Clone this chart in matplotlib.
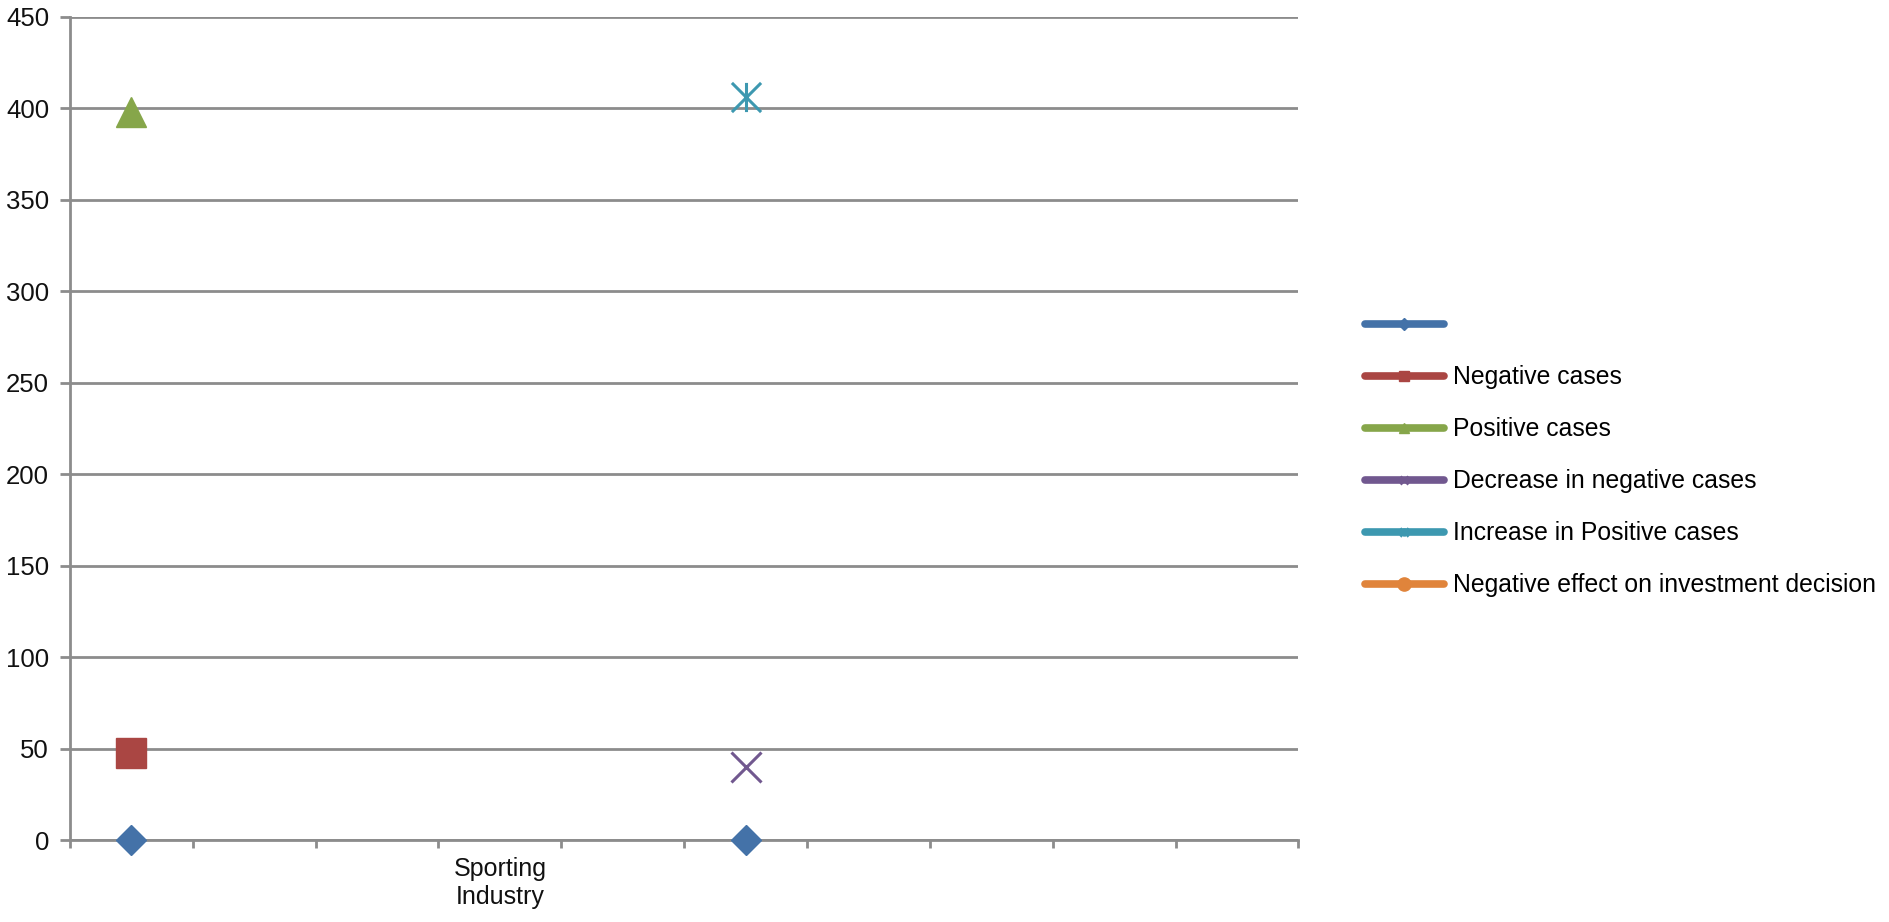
import numpy as np
import matplotlib
matplotlib.use("Agg")
import matplotlib.pyplot as plt
from matplotlib.lines import Line2D
from matplotlib.path import Path

plt.rcParams['font.family'] = ['Liberation Sans', 'DejaVu Sans']

nan = np.nan
categories = ["", "", "", "Sporting\nIndustry", "", "", "", "", "", ""]
series_names = ["", "Negative cases", "Positive cases", "Decrease in negative cases",
                "Increase in Positive cases", "Negative effect on investment decision"]
s_blank = [0, nan, nan, nan, nan, 0, nan, nan, nan, nan]
s_negative = [48, nan, nan, nan, nan, nan, nan, nan, nan, nan]
s_positive = [398, nan, nan, nan, nan, nan, nan, nan, nan, nan]
s_decrease = [nan, nan, nan, nan, nan, 40, nan, nan, nan, nan]
s_increase = [nan, nan, nan, nan, nan, 406, nan, nan, nan, nan]
s_neg_effect = [nan] * 10
yticks = list(range(0, 451, 50))

colors = ['#4472A8', '#AA4643', '#86A64A', '#71588F', '#3D98B0', '#E0843B']

star = Path([(-0.5, -0.5), (0.5, 0.5), (-0.5, 0.5), (0.5, -0.5), (0, -0.5), (0, 0.5)],
            [Path.MOVETO, Path.LINETO, Path.MOVETO, Path.LINETO, Path.MOVETO, Path.LINETO])

styles = [
    dict(marker='D', ms=15, mfc=colors[0], mec=colors[0], mew=1),
    dict(marker='s', ms=21, mfc=colors[1], mec=colors[1], mew=1),
    dict(marker='^', ms=22, mfc=colors[2], mec=colors[2], mew=1),
    dict(marker='x', ms=21, mfc='none', mec=colors[3], mew=2.2),
    dict(marker=star, ms=21, mfc='none', mec=colors[4], mew=2.2),
    dict(marker='o', ms=16, mfc=colors[5], mec=colors[5], mew=1),
]
leg_styles = [
    dict(marker='D', ms=6), dict(marker='s', ms=7.5), dict(marker='^', ms=7.5),
    dict(marker='x', ms=6, mew=2), dict(marker=star, ms=6, mew=2), dict(marker='o', ms=9.5),
]

data = [s_blank, s_negative, s_positive, s_decrease, s_increase, s_neg_effect]

fig = plt.figure(figsize=(18.9, 9.22), dpi=100)
ax = fig.add_axes([0.037, 0.0884, 0.650, 0.8932])

x = np.arange(len(categories))
for vals, st in zip(data, styles):
    ax.plot(x, vals, linestyle='none', zorder=3, clip_on=False, **st)

grid_c = '#8C8C8C'
ax.set_xlim(-0.5, len(categories) - 0.5)
ax.set_ylim(0, 450)
ax.set_yticks(yticks)
ax.set_yticklabels([str(v) for v in yticks])
ax.yaxis.grid(True, color=grid_c, linewidth=2)
ax.set_axisbelow(True)
ax.set_xticks(np.arange(-0.5, len(categories)), labels=[""] * (len(categories) + 1))
ax.set_xticks(x, labels=categories, minor=True)
ax.tick_params(axis='x', which='minor', length=0, pad=12, labelsize=18, labelcolor='#111111')
ax.tick_params(axis='x', which='major', length=6, width=2, color=grid_c, direction='out')
ax.tick_params(axis='y', length=7, width=2, color=grid_c, pad=8, labelsize=18.5, labelcolor='#111111')
for sp in ['top', 'right']:
    ax.spines[sp].set_visible(False)
for sp in ['left', 'bottom']:
    ax.spines[sp].set_color(grid_c)
    ax.spines[sp].set_linewidth(2)

handles = []
for c, ls in zip(colors, leg_styles):
    kw = dict(ls)
    mew = kw.pop('mew', 1)
    handles.append(Line2D([0], [0], color=c, lw=5.5, solid_capstyle='round',
                          mfc=c, mec=c, mew=mew, **kw))
fig.legend(handles, series_names, loc='upper left', bbox_to_anchor=(0.722, 0.660),
           frameon=False, fontsize=17.8, handlelength=3.2, handletextpad=0.38,
           labelspacing=1.13, borderaxespad=0, borderpad=0)

fig.savefig('out.png', dpi=100, facecolor='white')
